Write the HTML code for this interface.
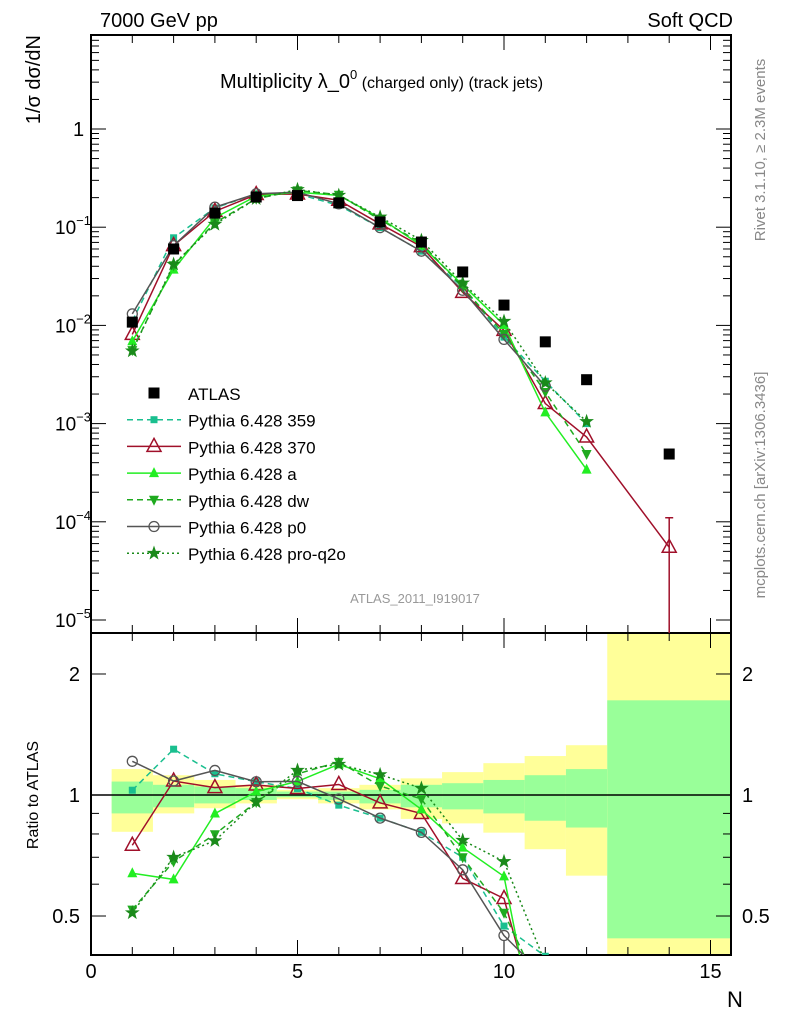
<!DOCTYPE html>
<html><head><meta charset="utf-8"><style>
html,body{margin:0;padding:0;background:#fff;width:786px;height:1024px;overflow:hidden;}
svg{display:block;font-family:"Liberation Sans",sans-serif;}
</style></head><body>
<svg id="c" width="786" height="1024" xmlns="http://www.w3.org/2000/svg"></svg>
<script>
const Ns=[1,2,3,4,5,6,7,8,9,10,11,12,14];
const atlas=[0.0108,0.060,0.139,0.203,0.21,0.177,0.113,0.0706,0.035,0.0161,0.0068,0.0028,0.00049];
const s359=[0.0111,0.078,0.157,0.219,0.218,0.167,0.099,0.057,0.0245,0.0076,0.0027,0.0010];
const s370=[0.0081,0.065,0.145,0.215,0.218,0.188,0.108,0.0635,0.0217,0.0089,0.0016,0.00073,0.000055];
const sA=[0.0069,0.037,0.125,0.207,0.227,0.211,0.124,0.065,0.0259,0.0101,0.0013,0.00034];
const sDW=[0.0056,0.041,0.111,0.195,0.237,0.214,0.119,0.069,0.0245,0.0082,0.0021,0.00049];
const sP0=[0.0131,0.065,0.160,0.219,0.227,0.173,0.099,0.057,0.0228,0.0072,0.0024];
const sPRO=[0.0055,0.042,0.107,0.195,0.242,0.211,0.127,0.0734,0.027,0.011,0.0026,0.00105];
const bandLo=[0.5,1.5,2.5,3.5,4.5,5.5,6.5,7.5,8.5,9.5,10.5,11.5,12.5];
const bandHi=[1.5,2.5,3.5,4.5,5.5,6.5,7.5,8.5,9.5,10.5,11.5,12.5,15.5];
const yelUp=[1.16,1.12,1.09,1.06,1.03,1.04,1.06,1.10,1.14,1.20,1.25,1.33,2.6];
const yelDn=[0.81,0.90,0.927,0.953,0.976,0.953,0.921,0.872,0.85,0.806,0.733,0.63,0.3];
const grnUp=[1.08,1.06,1.05,1.04,1.02,1.02,1.03,1.06,1.07,1.09,1.12,1.16,1.72];
const grnDn=[0.90,0.932,0.953,0.972,0.987,0.972,0.953,0.932,0.921,0.90,0.863,0.83,0.44];
const xTicks=[0,5,10,15];

const svg=document.getElementById('c');
const NS='http://www.w3.org/2000/svg';
const L=91,R=731,T=35,MB=633,RB=955;
const X=n=>L+41.3*n;
const Y=v=>129-98.2*Math.log10(v);
const YR=r=>795-402*Math.log10(r);
function el(t,a,p){const e=document.createElementNS(NS,t);for(const k in a)e.setAttribute(k,a[k]);(p||svg).appendChild(e);return e;}
function txt(s,x,y,a,p){const e=el('text',Object.assign({x:x,y:y},a),p);e.textContent=s;return e;}

const defs=el('defs',{});
const cp1=el('clipPath',{id:'cm'},defs);el('rect',{x:L,y:T,width:R-L,height:MB-T},cp1);
const cp2=el('clipPath',{id:'cr'},defs);el('rect',{x:L,y:MB,width:R-L,height:RB-MB},cp2);

const bg=el('g',{'clip-path':'url(#cr)'});


for(let i=0;i<bandLo.length;i++){
  el('rect',{x:X(bandLo[i]),y:YR(yelUp[i]),width:X(bandHi[i])-X(bandLo[i]),height:YR(yelDn[i])-YR(yelUp[i]),fill:'#ffff99'},bg);
  el('rect',{x:X(bandLo[i]),y:YR(grnUp[i]),width:X(bandHi[i])-X(bandLo[i]),height:YR(grnDn[i])-YR(grnUp[i]),fill:'#99ff99'},bg);
}
el('line',{x1:L,x2:R,y1:YR(1),y2:YR(1),stroke:'#000','stroke-width':1.5});

const f1=el('rect',{x:L,y:T,width:R-L,height:MB-T,fill:'none',stroke:'#000','stroke-width':2});

const f2=el('rect',{x:L,y:MB,width:R-L,height:RB-MB,fill:'none',stroke:'#000','stroke-width':2});


for(let e=-5;e<=0;e++){
  for(let m=1;m<10;m++){
    const v=m*Math.pow(10,e);const y=Y(v);if(y<T||y>MB)continue;
    const len=m==1?15:8;
    el('line',{x1:L,x2:L+len,y1:y,y2:y,stroke:'#000'});
    el('line',{x1:R,x2:R-len,y1:y,y2:y,stroke:'#000'});
  }
}
const yl=[['1',0],['10',-1],['10',-2],['10',-3],['10',-4],['10',-5]];
yl.forEach(([b,e])=>{const y=Y(Math.pow(10,e))+7;
  const t=e==0?txt('1',73,y,{'font-size':20}):txt('10',55,y,{'font-size':19});
  if(e!=0){const s=el('tspan',{dy:-9,'font-size':13},t);s.textContent='−'+(-e);}
  });
[0.4,0.5,0.6,0.7,0.8,0.9,1,2].forEach(r=>{const y=YR(r);const len=(r==0.5||r==1||r==2)?15:8;
  el('line',{x1:L,x2:L+len,y1:y,y2:y,stroke:'#000'});el('line',{x1:R,x2:R-len,y1:y,y2:y,stroke:'#000'});});
[['2',2],['1',1],['0.5',0.5]].forEach(([s,r])=>{
  const a=txt(s,80,YR(r)+7,{'font-size':20,'text-anchor':'end'});
  const b=txt(s,742,YR(r)+7,{'font-size':20});});
for(let n=0;n<=15.5;n+=1){const x=X(n);const len=n%5==0?15:8;
  el('line',{x1:x,x2:x,y1:MB,y2:MB-len,stroke:'#000'});el('line',{x1:x,x2:x,y1:MB,y2:MB+len,stroke:'#000'});
  el('line',{x1:x,x2:x,y1:RB,y2:RB-len,stroke:'#000'});el('line',{x1:x,x2:x,y1:T,y2:T+len,stroke:'#000'});}
xTicks.forEach(n=>{const t=txt(String(n),X(n),978,{'font-size':20,'text-anchor':'middle'});});

function marker(g,type,x,y,c){
  if(type=='sq')el('rect',{x:x-5.5,y:y-5.5,width:11,height:11,fill:c},g);
  else if(type=='ssq')el('rect',{x:x-3.5,y:y-3.5,width:7,height:7,fill:c},g);
  else if(type=='otri')el('path',{d:`M${x},${y-8}L${x+7},${y+5}L${x-7},${y+5}Z`,fill:'none',stroke:c,'stroke-width':1.5},g);
  else if(type=='tri')el('path',{d:`M${x},${y-6}L${x+5},${y+4}L${x-5},${y+4}Z`,fill:c},g);
  else if(type=='dtri')el('path',{d:`M${x},${y+6}L${x+5},${y-4}L${x-5},${y-4}Z`,fill:c},g);
  else if(type=='circ')el('circle',{cx:x,cy:y,r:5,fill:'none',stroke:c,'stroke-width':1.3},g);
  else if(type=='star'){let d='';for(let k=0;k<10;k++){const r=k%2?2.6:6.5,a=-Math.PI/2+k*Math.PI/5;d+=(k?'L':'M')+(x+r*Math.cos(a)).toFixed(1)+','+(y+r*Math.sin(a)).toFixed(1);}
    el('path',{d:d+'Z',fill:c,stroke:c,'stroke-width':0.8},g);}
}
const series=[
 {name:'series-359',data:s359,c:'#1abf8f',m:'ssq',dash:'6,4',label:'Pythia 6.428 359'},
 {name:'series-370',data:s370,c:'#a0102a',m:'otri',dash:'',label:'Pythia 6.428 370'},
 {name:'series-a',data:sA,c:'#22ee22',m:'tri',dash:'',label:'Pythia 6.428 a'},
 {name:'series-dw',data:sDW,c:'#1faa1f',m:'dtri',dash:'6,4',label:'Pythia 6.428 dw'},
 {name:'series-p0',data:sP0,c:'#555555',m:'circ',dash:'',label:'Pythia 6.428 p0'},
 {name:'series-pro-q2o',data:sPRO,c:'#1a8a1a',m:'star',dash:'2,3',label:'Pythia 6.428 pro-q2o'}];
series.forEach(s=>{
  const g=el('g',{'clip-path':'url(#cm)'});
  
  const pts=s.data.map((v,i)=>[X(Ns[i]),Y(v)]);
  el('polyline',{points:pts.map(p=>p.join(',')).join(' '),fill:'none',stroke:s.c,'stroke-width':1.5,'stroke-dasharray':s.dash},g);
  pts.forEach(p=>marker(g,s.m,p[0],p[1],s.c));
  const gr=el('g',{'clip-path':'url(#cr)'});
  
  const rp=s.data.map((v,i)=>[X(Ns[i]),YR(v/atlas[i])]);
  el('polyline',{points:rp.map(p=>p.join(',')).join(' '),fill:'none',stroke:s.c,'stroke-width':1.5,'stroke-dasharray':s.dash},gr);
  rp.forEach(p=>marker(gr,s.m,p[0],p[1],s.c));
});
el('line',{x1:X(14),x2:X(14),y1:Y(0.00011),y2:MB,stroke:'#a0102a','stroke-width':1.5});
el('line',{x1:X(14)-4,x2:X(14)+4,y1:Y(0.00011),y2:Y(0.00011),stroke:'#a0102a','stroke-width':1.5});
const ga=el('g',{});
atlas.forEach((v,i)=>marker(ga,'sq',X(Ns[i]),Y(v),'#000'));

const lg=el('g',{});
const ly0=393,ld=26.7;
const e0=el('g',{},lg);
marker(e0,'sq',154,ly0,'#000');txt('ATLAS',188,ly0+7,{'font-size':17},e0);
series.forEach((s,i)=>{const y=ly0+ld*(i+1);
  const e=el('g',{},lg);
  el('line',{x1:127,x2:181,y1:y,y2:y,stroke:s.c,'stroke-width':1.5,'stroke-dasharray':s.dash},e);
  marker(e,s.m,154,y,s.c);txt(s.label,188,y+7,{'font-size':17},e);});

function T2(s,x,y,a,name){const t=txt(s,x,y,a);return t;}
T2('7000 GeV pp',100,27,{'font-size':20},'header-left');
T2('Soft QCD',733,27,{'font-size':20,'text-anchor':'end'},'header-right');
const ti=T2('Multiplicity λ_0',220,88,{'font-size':20},'plot-title');
const sp=el('tspan',{dy:-9,'font-size':13},ti);sp.textContent='0';
const sp2=el('tspan',{dy:9,'font-size':16},ti);sp2.textContent=' (charged only) (track jets)';
T2('ATLAS_2011_I919017',415,603,{'font-size':13,'text-anchor':'middle',fill:'#999'},'analysis-id');
T2('N',735,1007,{'font-size':22,'text-anchor':'middle'},'x-axis-title');
T2('1/σ dσ/dN',40,35,{'font-size':20,'text-anchor':'end',transform:'rotate(-90 40 35)'},'y-axis-title');
T2('Ratio to ATLAS',38,795,{'font-size':16,'text-anchor':'middle',transform:'rotate(-90 38 795)'},'ratio-axis-title');
T2('Rivet 3.1.10, ≥ 2.3M events',765,150,{'font-size':15,'text-anchor':'middle',fill:'#888',transform:'rotate(-90 765 150)'},'rivet-label');
T2('mcplots.cern.ch [arXiv:1306.3436]',765,485,{'font-size':15,'text-anchor':'middle',fill:'#888',transform:'rotate(-90 765 485)'},'mcplots-label');
</script>
</body></html>
